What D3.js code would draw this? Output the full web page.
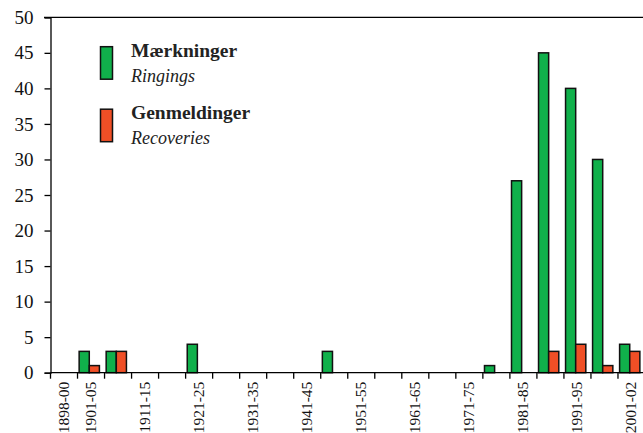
<!DOCTYPE html>
<html><head><meta charset="utf-8">
<script src="https://cdn.jsdelivr.net/npm/d3@7"></script>
<style>body{margin:0;background:#fff}svg{display:block}</style>
</head><body>
<svg id="c" width="643" height="433"></svg>
<script>
const categories = ["1898-00","1901-05","1906-10","1911-15","1916-20","1921-25","1926-30","1931-35","1936-40","1941-45","1946-50","1951-55","1956-60","1961-65","1966-70","1971-75","1976-80","1981-85","1986-90","1991-95","1996-00","2001-02"];
const ringings   = [0,3,3,0,0,4,0,0,0,0,3,0,0,0,0,0,1,27,45,40,30,4];
const recoveries = [0,1,3,0,0,0,0,0,0,0,0,0,0,0,0,0,0,0,3,4,1,3];
const shownLabels = ["1898-00","1901-05","1911-15","1921-25","1931-35","1941-45","1951-55","1961-65","1971-75","1981-85","1991-95","2001-02"];
const yTicks = [0,5,10,15,20,25,30,35,40,45,50];
const seriesNames = [["Mærkninger","Ringings"],["Genmeldinger","Recoveries"]];
const colors = ["#10b04b","#f04f26"];

const svg = d3.select("#c");
const font = "'Liberation Serif','Times New Roman',serif";
const x = d3.scaleBand().domain(categories).range([50.5, 645]);
const y = d3.scaleLinear().domain([0,50]).range([372.7, 17.3]);
const bw = x.bandwidth();
const x1 = d3.scaleBand().domain([0,1]).range([bw*0.06, bw*0.81]);

// top border
svg.append("line").attr("x1",44).attr("x2",643).attr("y1",y(50)).attr("y2",y(50)).attr("stroke","#000").attr("stroke-width",1.3);

// y axis
const ya = svg.append("g").attr("transform",`translate(${x.range()[0]},0)`)
  .call(d3.axisLeft(y).tickValues(yTicks).tickSize(6).tickPadding(11));
ya.select(".domain").attr("stroke-width",1.3);
ya.selectAll("line").attr("stroke-width",1.3);
ya.selectAll("text").attr("font-family",font).attr("font-size",19).attr("fill","#111");

// bars
const data = categories.map((c,i)=>({c, v:[ringings[i], recoveries[i]]}));
const g = svg.append("g");
data.forEach(d=>{
  d.v.forEach((v,k)=>{
    if(v>0) g.append("rect").attr("x",x(d.c)+x1(k)).attr("width",x1.bandwidth())
      .attr("y",y(v)).attr("height",y(0)-y(v)).attr("fill",colors[k]).attr("stroke","#111").attr("stroke-width",1.5);
  });
});

// x axis
const xa = svg.append("g").attr("transform",`translate(0,${y(0)})`);
xa.append("line").attr("x1",x.range()[0]).attr("x2",643).attr("stroke","#000").attr("stroke-width",1.3);
const bounds = categories.map(c=>x(c));
xa.selectAll(".tk").data(bounds).join("line").attr("x1",d=>d).attr("x2",d=>d).attr("y1",0).attr("y2",6).attr("stroke","#000").attr("stroke-width",1.3);
xa.selectAll(".lb").data(shownLabels).join("text")
  .attr("transform",d=>`translate(${x(d)+bw/2+5},9) rotate(-90)`)
  .attr("text-anchor","end").attr("font-family",font).attr("font-size",15.5).attr("fill","#111").text(d=>d);

// legend
const leg = svg.append("g");
seriesNames.forEach((s,k)=>{
  const top = 46.7 + k*62.5;
  leg.append("rect").attr("x",100.5).attr("y",top).attr("width",12).attr("height",32.5).attr("fill",colors[k]).attr("stroke","#111").attr("stroke-width",1.5);
  leg.append("text").attr("x",131).attr("y",top+10).attr("font-family",font).attr("font-size",19.5).attr("font-weight","bold").attr("fill","#222").text(s[0]);
  leg.append("text").attr("x",131).attr("y",top+35).attr("font-family",font).attr("font-size",18).attr("font-style","italic").attr("fill","#222").text(s[1]);
});
</script>
</body></html>
